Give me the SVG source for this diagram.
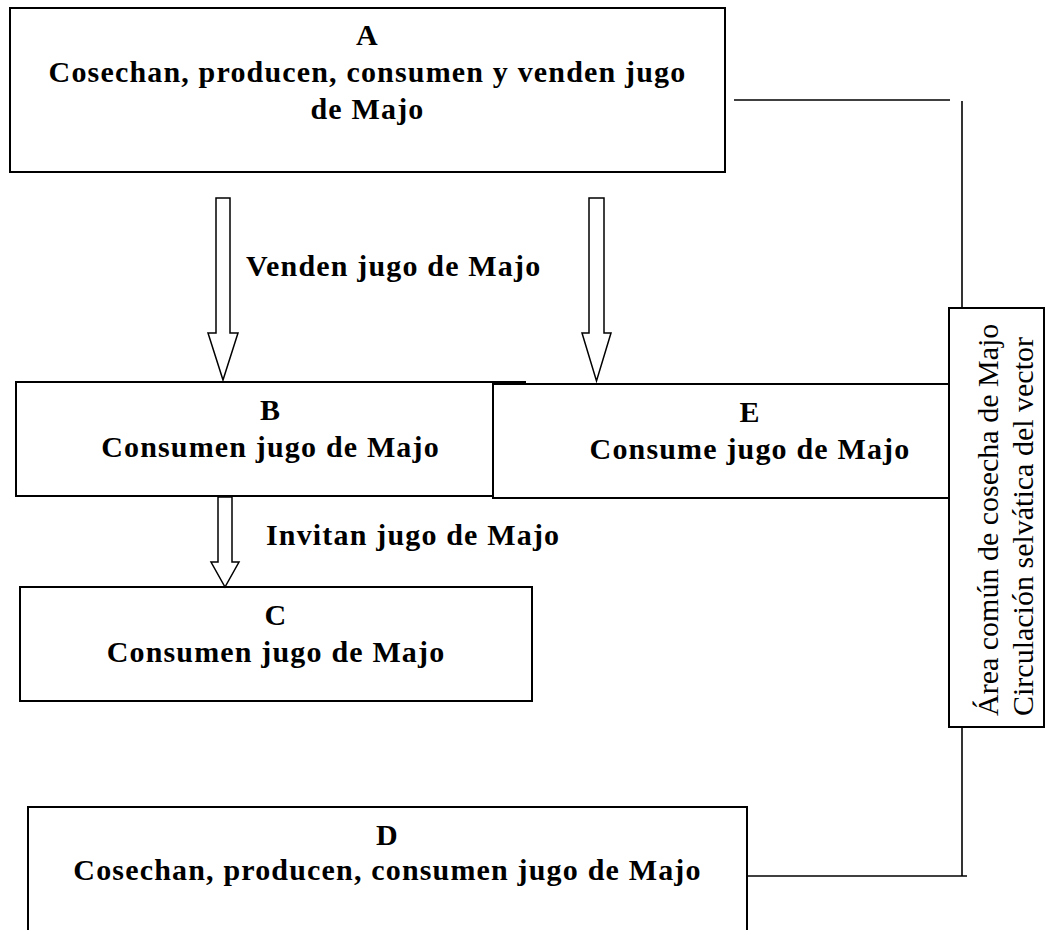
<svg xmlns="http://www.w3.org/2000/svg" width="1045" height="930" viewBox="0 0 1045 930">
<style>
.box{fill:#fff;stroke:#000;stroke-width:2}
.arrow{fill:#fff;stroke:#000;stroke-width:1.5;stroke-linejoin:miter}
.line{fill:none;stroke:#000;stroke-width:1.6}
.t{font-family:"Liberation Serif","Times New Roman",serif;font-weight:bold;font-size:30px;letter-spacing:1.17px;fill:#000}
.c{text-anchor:middle}
.v{font-family:"Liberation Serif","Times New Roman",serif;font-size:30px;fill:#000}
</style>
<rect width="1045" height="930" fill="#fff"/>
<g id="connectors">
<path class="line" d="M734,100 H950"/>
<path class="line" d="M962,101 V308"/>
<path class="line" d="M962,727 V876"/>
<path class="line" d="M747,876 H967"/>
</g>
<g id="nodeA">
<rect class="box" x="10" y="8" width="715" height="164"/>
<text class="t c" x="367.5" y="45">A</text>
<text class="t c" x="367.5" y="82">Cosechan, producen, consumen y venden jugo</text>
<text class="t c" x="367.5" y="119">de Majo</text>
</g>
<g id="nodeB">
<rect class="box" x="16" y="382" width="509" height="114"/>
<text class="t c" x="270.5" y="420">B</text>
<text class="t c" x="270.5" y="457">Consumen jugo de Majo</text>
</g>
<g id="nodeE">
<rect class="box" x="493" y="384" width="514" height="114"/>
<text class="t c" x="750" y="422">E</text>
<text class="t c" x="750" y="459">Consume jugo de Majo</text>
</g>
<g id="nodeArea">
<rect class="box" x="949" y="308" width="95" height="419"/>
<text class="v" transform="translate(998,716) rotate(-90)">Área común de cosecha de Majo</text>
<text class="v" transform="translate(1033,716) rotate(-90)">Circulación selvática del vector</text>
</g>
<g id="nodeC">
<rect class="box" x="20" y="587" width="512" height="114"/>
<text class="t c" x="276" y="625">C</text>
<text class="t c" x="276" y="662">Consumen jugo de Majo</text>
</g>
<g id="nodeD">
<rect class="box" x="28" y="807" width="719" height="135"/>
<text class="t c" x="387.5" y="845">D</text>
<text class="t c" x="387.5" y="880">Cosechan, producen, consumen jugo de Majo</text>
</g>
<g id="arrows">
<polygon class="arrow" points="216,198 230,198 230,333 238,333 223,380 208,333 216,333"/>
<polygon class="arrow" points="589,198 604,198 604,333 611,333 596.5,381 582,333 589,333"/>
<polygon class="arrow" points="218,497 232,497 232,562 239,562 225,587 211,562 218,562"/>
<text class="t" x="246" y="276">Venden jugo de Majo</text>
<text class="t" x="266" y="545">Invitan jugo de Majo</text>
</g>
</svg>
